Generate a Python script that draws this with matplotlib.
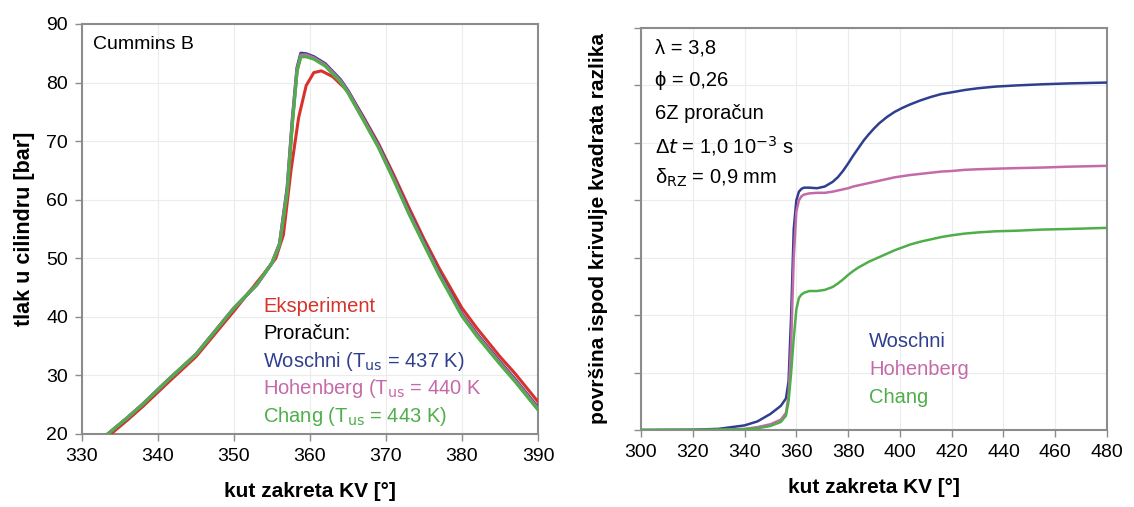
import matplotlib
matplotlib.use("Agg")
import matplotlib.pyplot as plt

plt.rcParams['font.family'] = ['Liberation Sans', 'DejaVu Sans']

# --- left chart: cylinder pressure ---
kut_exp = [333.8, 336, 338, 341.5, 345, 350, 354, 355.5, 356.5, 357.5, 358.5, 359.5, 360.5, 361.5,
           363, 365, 367, 369, 371, 373, 375, 377, 380, 382, 385, 387, 390]
tlak_exp = [20, 22.4, 24.7, 29, 33.2, 41, 47.5, 50, 54, 65, 74, 79.5, 81.7, 82,
            81, 78.5, 74.2, 69.6, 64.3, 58.7, 53.3, 48.3, 41.5, 38, 33.2, 30.3, 25.5]

kut_calc = [333.4, 336, 338, 341.3, 345, 350, 353, 355, 356, 357, 357.7, 358.3, 358.8, 359.5,
            360.5, 362, 364, 365, 367, 369, 371, 373, 375, 377, 380, 382, 385, 387, 390]
tlak_woschni = [20, 22.8, 25.1, 29.2, 33.6, 41.5, 45.5, 49.2, 52.5, 62, 74, 82.5, 85, 84.9,
                84.4, 83.2, 80.5, 78.6, 74, 69.3, 63.8, 58, 52.7, 47.5, 40.5, 37, 32.3, 29.3, 24.5]
tlak_hohenberg = [20, 22.8, 25.1, 29.2, 33.6, 41.5, 45.5, 49.2, 52.4, 61.6, 73.6, 82.2, 84.7, 84.7,
                  84.2, 83.0, 80.3, 78.4, 73.8, 69.1, 63.6, 57.8, 52.5, 47.3, 40.3, 36.8, 32.1, 29.1, 24.3]
tlak_chang = [20, 22.8, 25.1, 29.2, 33.6, 41.5, 45.5, 49.2, 52.3, 61.2, 73.2, 81.9, 84.4, 84.4,
              84.0, 82.8, 80.1, 78.2, 73.6, 68.9, 63.4, 57.6, 52.3, 47.1, 40.1, 36.6, 31.9, 28.9, 24.1]

# --- right chart: area under the squared difference curve ---
kut_r = [300, 320, 330, 340, 345, 350, 354, 356, 357, 358,
         359, 360, 361, 362, 363, 365, 368, 371, 374, 376,
         378, 380, 382, 384, 386, 388, 390, 392, 395, 398,
         401, 404, 408, 412, 416, 420, 425, 430, 437, 445,
         455, 465, 480]
pov_woschni = [0, 0.005, 0.02, 0.08, 0.15, 0.28, 0.42, 0.55, 0.85, 2.0,
               3.5, 4.0, 4.15, 4.2, 4.22, 4.22, 4.21, 4.24, 4.32, 4.4,
               4.51, 4.64, 4.78, 4.91, 5.04, 5.15, 5.25, 5.34, 5.45, 5.54,
               5.61, 5.67, 5.74, 5.8, 5.85, 5.88, 5.92, 5.95, 5.98, 6.0,
               6.02, 6.035, 6.05]
pov_hohenberg = [0, 0.002, 0.005, 0.02, 0.05, 0.1, 0.18, 0.3, 0.6, 1.5,
                 3.0, 3.8, 4.0, 4.07, 4.1, 4.12, 4.13, 4.13, 4.15, 4.17,
                 4.19, 4.21, 4.24, 4.26, 4.28, 4.3, 4.32, 4.34, 4.37, 4.4,
                 4.42, 4.44, 4.46, 4.48, 4.5, 4.51, 4.53, 4.54, 4.55, 4.56,
                 4.57, 4.585, 4.6]
pov_chang = [0, 0.001, 0.003, 0.01, 0.03, 0.07, 0.14, 0.25, 0.5, 1.0,
             1.6, 2.1, 2.3, 2.36, 2.39, 2.42, 2.42, 2.44, 2.49, 2.55,
             2.62, 2.7, 2.77, 2.83, 2.88, 2.93, 2.97, 3.01, 3.07, 3.13,
             3.18, 3.23, 3.28, 3.32, 3.36, 3.39, 3.42, 3.44, 3.46, 3.47,
             3.49, 3.5, 3.52]

crvena = '#d8322d'
plava = '#2f3f8e'
roza = '#c46aa9'
zelena = '#4fae4a'
siva = '#8c8c8c'
grid_c = '#ececec'

W, H = 1134, 507
fig = plt.figure(figsize=(W / 100, H / 100), dpi=100)
ax1 = fig.add_axes([82 / W, (H - 434) / H, (538 - 82) / W, (434 - 24) / H])
ax2 = fig.add_axes([641 / W, (H - 430) / H, (1107 - 641) / W, (430 - 28) / H])

for ax in (ax1, ax2):
    for s in ax.spines.values():
        s.set_color(siva)
        s.set_linewidth(1.5)
    ax.tick_params(color=siva, length=5, width=1, labelsize=14, direction='out', pad=5)
    ax.grid(True, color=grid_c, linewidth=0.8)
    ax.set_axisbelow(True)

# left
ax1.plot(kut_exp, tlak_exp, color=crvena, lw=2.2, zorder=3)
ax1.plot(kut_calc, tlak_woschni, color=plava, lw=2.4, zorder=4)
ax1.plot(kut_calc, tlak_hohenberg, color=roza, lw=2.4, zorder=5)
ax1.plot(kut_calc, tlak_chang, color=zelena, lw=2.2, zorder=6)
ax1.set_xlim(330, 390)
ax1.set_ylim(20, 90)
ax1.set_xticks(range(330, 391, 10))
ax1.set_yticks(range(20, 91, 10))
ax1.set_xlabel('kut zakreta KV [°]', fontsize=15, fontweight='bold', labelpad=12)
ax1.set_ylabel('tlak u cilindru [bar]', fontsize=15.5, fontweight='bold', labelpad=8)

ax1.text(0.025, 0.95, 'Cummins B', transform=ax1.transAxes, fontsize=14, va='center')
leg1 = [('Eksperiment', crvena), ('Proračun:', 'black'),
        ('Woschni (T$_{\\rm us}$ = 437 K)', plava),
        ('Hohenberg (T$_{\\rm us}$ = 440 K', roza),
        ('Chang (T$_{\\rm us}$ = 443 K)', zelena)]
for i, (t, c) in enumerate(leg1):
    ax1.text(353.8, 41.8 - i * 4.7, t, color=c, fontsize=14.5, va='center')

# right
ax2.plot(kut_r, pov_woschni, color=plava, lw=1.8, zorder=3)
ax2.plot(kut_r, pov_hohenberg, color=roza, lw=1.8, zorder=4)
ax2.plot(kut_r, pov_chang, color=zelena, lw=1.8, zorder=5)
ax2.set_xlim(300, 480)
ax2.set_ylim(0, 7)
ax2.set_xticks(range(300, 481, 20))
ax2.set_yticks(range(0, 8))
ax2.set_yticklabels([])
ax2.set_xlabel('kut zakreta KV [°]', fontsize=15, fontweight='bold', labelpad=12)
ax2.set_ylabel('površina ispod krivulje kvadrata razlika', fontsize=15, fontweight='bold', labelpad=14)

params = ['λ = 3,8', 'ϕ = 0,26', '6Z proračun',
          'Δ$t$ = 1,0 10$^{-3}$ s', 'δ$_{\\rm RZ}$ = 0,9 mm']
for i, t in enumerate(params):
    ax2.text(0.03, 0.95 - i * 0.081, t, transform=ax2.transAxes, fontsize=14.5, va='center')

leg2 = [('Woschni', plava), ('Hohenberg', roza), ('Chang', zelena)]
for i, (t, c) in enumerate(leg2):
    ax2.text(0.49, 0.22 - i * 0.07, t, transform=ax2.transAxes, color=c, fontsize=14.5, va='center')

fig.savefig('out.png', dpi=100)
